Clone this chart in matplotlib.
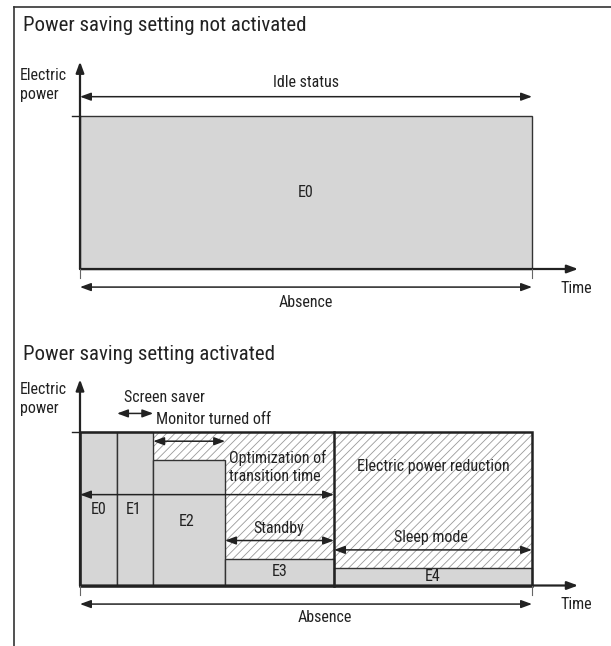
import matplotlib
matplotlib.use('Agg')
import matplotlib.pyplot as plt
from matplotlib.patches import FancyArrowPatch, Rectangle
from matplotlib.lines import Line2D

plt.rcParams['font.family'] = ['Roboto Condensed', 'DejaVu Sans']
plt.rcParams['font.stretch'] = 'condensed'
plt.rcParams['hatch.linewidth'] = 0.6

# time axis is 0..100 (absence), power axis is 0..100 (full power)
idle_edges = [0, 100]
idle_levels = [100]
idle_labels = ['E0']

saving_edges = [0, 8.2, 16.2, 32.1, 56.2, 100]
saving_levels = [100, 100, 81.7, 17.2, 11.3]
saving_labels = ['E0', 'E1', 'E2', 'E3', 'E4']
sleep_start = saving_edges[4]

W, H = 611, 646
FILL = '#d6d6d6'
INK = '#222222'
LABEL_SIZE = 11.5
TITLE_SIZE = 15


def arrow(ax, x0, y0, x1, y1, style='<|-|>', lw=1.1):
    a = FancyArrowPatch((x0, y0), (x1, y1), arrowstyle=f'{style},head_length=0.65,head_width=0.24',
                        mutation_scale=10, lw=lw, color=INK, shrinkA=0, shrinkB=0, clip_on=False)
    ax.add_patch(a)


def label(ax, x, y, s, ha='center', size=LABEL_SIZE):
    ax.text(x, y, s, ha=ha, va='center', fontsize=size, color=INK, clip_on=False)


def make_axes(fig, top_px, bottom_px):
    ax = fig.add_axes([80 / W, 1 - bottom_px / H, (532 - 80) / W, (bottom_px - top_px) / H])
    ax.set_xlim(0, 100)
    ax.set_ylim(0, 100)
    ax.axis('off')
    return ax


def axes_decor(ax, y_tip, elec_y, power_y):
    # axis arrows, tick marks and axis labels
    arrow(ax, 0, 0, 0, y_tip, style='-|>', lw=1.6)
    arrow(ax, 0, 0, 110.2, 0, style='-|>', lw=1.6)
    ax.plot([-1.8, 0], [100, 100], color=INK, lw=1, clip_on=False)
    for t in (0, 100):
        ax.plot([t, t], [0, -6], color='#666666', lw=0.8, clip_on=False)
    label(ax, -13.3, elec_y, 'Electric', ha='left')
    label(ax, -13.3, power_y, 'power', ha='left')
    label(ax, 106.4, -12.5, 'Time', ha='left')


fig = plt.figure(figsize=(W / 100, H / 100), dpi=100)

# outer frame
fig.add_artist(Line2D([13.5 / W, 1], [1 - 6.7 / H] * 2, color='#333333', lw=1.2))
fig.add_artist(Line2D([13.5 / W] * 2, [0, 1 - 6.7 / H], color='#333333', lw=1.2))

# ---- panel 1: power saving not activated
ax1 = make_axes(fig, 115.7, 269)
ax1.bar(idle_edges[:-1], idle_levels, width=[idle_edges[1] - idle_edges[0]], align='edge',
        color=FILL, edgecolor='#333333', lw=1, clip_on=False)
label(ax1, 50, 49.7, idle_labels[0])
axes_decor(ax1, 135.3, 126, 113.7)
label(ax1, -12.6, 158.8, 'Power saving setting not activated', ha='left', size=TITLE_SIZE)
arrow(ax1, 0, 112.4, 100, 112.4)
label(ax1, 50, 121.6, 'Idle status')
arrow(ax1, 0, -11.8, 100, -11.8)
label(ax1, 50, -21.6, 'Absence')

# ---- panel 2: power saving activated
ax2 = make_axes(fig, 432, 585.5)
ax2.add_patch(Rectangle((saving_edges[2], 0), 100 - saving_edges[2], 100, facecolor='white',
                        edgecolor='#9a9a9a', lw=0, hatch='////'))
widths = [b - a for a, b in zip(saving_edges[:-1], saving_edges[1:])]
ax2.bar(saving_edges[:-1], saving_levels, width=widths, align='edge',
        color=FILL, edgecolor='#333333', lw=1, clip_on=False)
ax2.add_patch(Rectangle((0, 0), 100, 100, fill=False, edgecolor=INK, lw=1.8, clip_on=False))
ax2.plot([sleep_start, sleep_start], [0, 100], color=INK, lw=1.8, clip_on=False)

axes_decor(ax2, 134.3, 127.8, 115.4)
label(ax2, -12.6, 150.7, 'Power saving setting activated', ha='left', size=TITLE_SIZE)

label(ax2, 18.6, 122.7, 'Screen saver')
arrow(ax2, saving_edges[1], 112.1, saving_edges[2], 112.1)
label(ax2, 16.8, 108.2, 'Monitor turned off', ha='left')
arrow(ax2, saving_edges[2], 94, saving_edges[3], 94)
label(ax2, 32.9, 83.3, 'Optimization of', ha='left')
label(ax2, 32.9, 70.9, 'transition time', ha='left')
label(ax2, 78.1, 77.5, 'Electric power reduction')
arrow(ax2, 0, 59.2, sleep_start, 59.2)

label(ax2, 4.2, 49.3, saving_labels[0])
label(ax2, 11.9, 49.3, saving_labels[1])
label(ax2, 23.5, 41.5, saving_labels[2])
label(ax2, 44.2, 8.8, saving_labels[3])
label(ax2, 78.0, 5.6, saving_labels[4])

label(ax2, 44.0, 36.9, 'Standby')
arrow(ax2, saving_edges[3], 29.3, sleep_start, 29.3)
label(ax2, 77.7, 31.0, 'Sleep mode')
arrow(ax2, sleep_start, 23.2, 100, 23.2)

arrow(ax2, 0, -12.1, 100, -12.1)
label(ax2, 54.2, -21.0, 'Absence')

fig.savefig('out.png', dpi=100)
